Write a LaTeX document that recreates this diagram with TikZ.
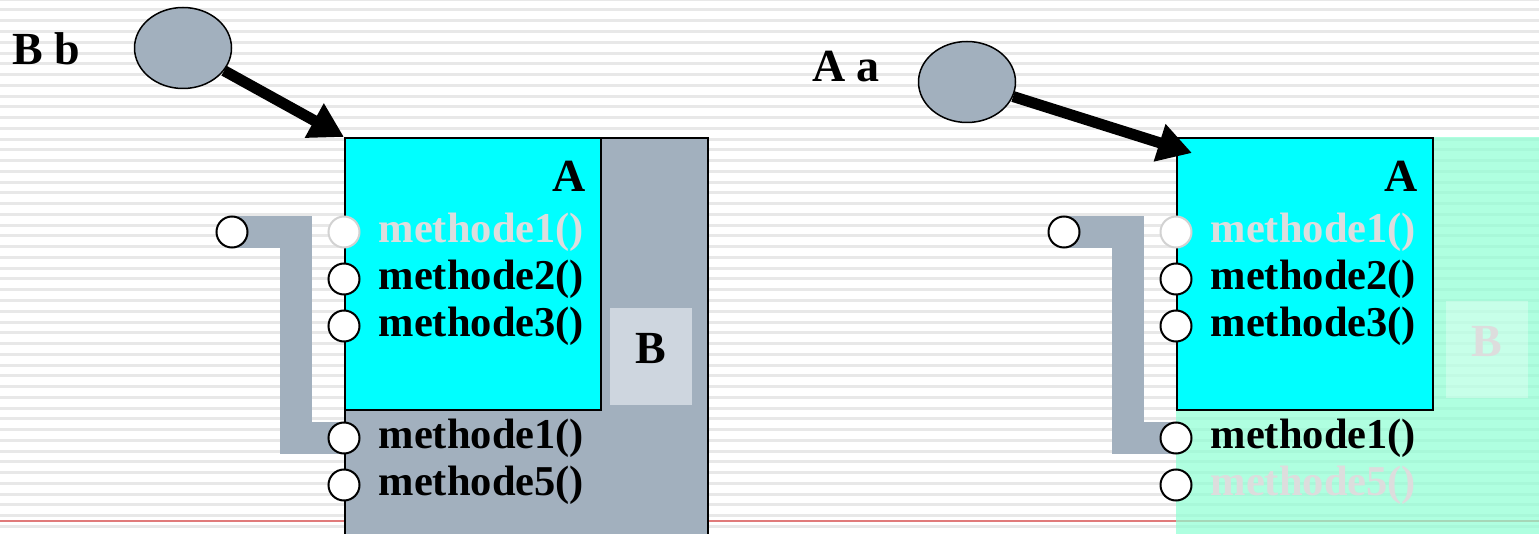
\documentclass[tikz,border=0pt]{standalone}
\usepackage{fontspec}
\setmainfont{Liberation Serif}
\usetikzlibrary{positioning,arrows.meta,shapes.geometric}

\definecolor{slate}{HTML}{A2B0BE}
\definecolor{slatelight}{HTML}{CED6DF}
\definecolor{aqua}{HTML}{00FFFF}
\definecolor{mint}{HTML}{8EFFD3}
\definecolor{faded}{HTML}{DDDDDD}
\definecolor{redrule}{HTML}{E07A7A}

\pgfdeclarelayer{paper}
\pgfdeclarelayer{wire}
\pgfsetlayers{paper,wire,main}

\tikzstyle{every node}=[inner sep=0pt, font={\fontsize{42.5}{50}\selectfont\bfseries}]
\tikzstyle{typename}=[font={\fontsize{46}{54}\selectfont\bfseries}]
\tikzstyle{classbox}=[draw=black, line width=2pt, anchor=north west]
\tikzstyle{tag}=[typename, anchor=north west, minimum width=82pt, minimum height=97pt, text depth=16pt]
\tikzstyle{port}=[circle, draw=black, fill=white, line width=2pt, minimum size=31pt, outer sep=0pt]
\tikzstyle{deadport}=[port, draw=gray!35]
\tikzstyle{method}=[text=black]
\tikzstyle{hidden}=[text=faded]
\tikzstyle{objref}=[ellipse, draw=black, fill=slate, line width=1.5pt, minimum width=97pt, minimum height=81pt]
\tikzstyle{pointer}=[line width=11pt, -{Triangle[length=34pt,width=37pt]}]
\tikzstyle{band}=[draw=slate, line width=32pt]
\tikzstyle{stripe}=[fill=gray!18]

\begin{document}
\begin{tikzpicture}[x=1pt,y=-1pt]
    \useasboundingbox (0,0) rectangle (1539,534);
    \begin{pgfonlayer}{paper}
        \fill[white] (0,0) rectangle (1539,534);
        \foreach \k in {-1,...,49}
            \fill[stripe] (0,{10.76*\k+8.5}) rectangle (1539,{10.76*\k+11.5});
        \draw[redrule, line width=2pt] (0,521) -- (1539,521);
        % B b
        \node[classbox, fill=slate, minimum width=363pt, minimum height=400pt] (objB) at (344,137) {};
        \node[classbox, fill=aqua, minimum width=256pt, minimum height=272pt] (partA) at (344,137) {};
        \node[tag, fill=slatelight] (tagB) at (610,308) {B};
        % A a
        \node[anchor=north west, fill=mint, fill opacity=0.7, minimum width=363pt, minimum height=400pt] (objA) at (1176,137) {};
        \node[classbox, fill=aqua, minimum width=256pt, minimum height=272pt] (partA2) at (1176,137) {};
        \node[tag, fill=white, fill opacity=0.3, text opacity=1, text=faded] (tagB2) at (1446,301) {B};
    \end{pgfonlayer}

    \node[typename, anchor=base west] (declb) at (12,65) {B b};
    \node[objref] (refb) at (183,48) {};
    \draw[pointer] (refb) -- (partA.north west);
    \node[typename, below left=24pt and 16pt of partA.north east] (nameA) {A};

    \node[port] (xL) at (232,232) {};
    \node[deadport] (pL1) at (344,232) {};
    \node[port, below=16pt of pL1] (pL2) {};
    \node[port, below=16pt of pL2] (pL3) {};
    \node[port, below=81pt of pL3] (pL4) {};
    \node[port, below=16pt of pL4] (pL5) {};
    \node[hidden, right=19pt of pL1] (mL1) {methode1()};
    \node[method, right=19pt of pL2] (mL2) {methode2()};
    \node[method, right=19pt of pL3] (mL3) {methode3()};
    \node[method, right=19pt of pL4] (mL4) {methode1()};
    \node[method, right=19pt of pL5] (mL5) {methode5()};

    \node[typename, anchor=base west] (decla) at (812,82) {A a};
    \node[objref] (refa) at (967,82) {};
    \coordinate (hitA) at (1192,153);
    \draw[pointer] (refa) -- (hitA);
    \node[typename, below left=24pt and 16pt of partA2.north east] (nameA2) {A};

    \node[port] (xR) at (1064,232) {};
    \node[deadport] (pR1) at (1176,232) {};
    \node[port, below=16pt of pR1] (pR2) {};
    \node[port, below=16pt of pR2] (pR3) {};
    \node[port, below=81pt of pR3] (pR4) {};
    \node[port, below=16pt of pR4] (pR5) {};
    \node[hidden, right=19pt of pR1] (mR1) {methode1()};
    \node[method, right=19pt of pR2] (mR2) {methode2()};
    \node[method, right=19pt of pR3] (mR3) {methode3()};
    \node[method, right=19pt of pR4] (mR4) {methode1()};
    \node[hidden, right=19pt of pR5] (mR5) {methode5()};

    \begin{pgfonlayer}{wire}
        \draw[band] (xL.center) -- ++(64,0) |- (pL4.center);
        \draw[band] (xR.center) -- ++(64,0) |- (pR4.center);
    \end{pgfonlayer}
\end{tikzpicture}
\end{document}
